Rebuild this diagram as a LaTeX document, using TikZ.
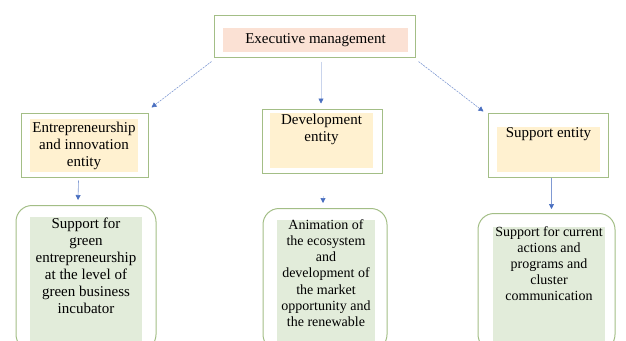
\documentclass[tikz,border=0pt]{standalone}
\usepackage{fontspec}
\setmainfont{Liberation Serif}
\usetikzlibrary{arrows.meta}
\definecolor{bordergreen}{HTML}{A3BE86}
\definecolor{peachfill}{HTML}{FBE1D4}
\definecolor{creamfill}{HTML}{FFF1D0}
\definecolor{greenfill}{HTML}{E2ECDA}
\definecolor{arrowblue}{HTML}{4A6FC0}
\tikzset{
  outerbox/.style={draw=bordergreen, line width=1pt, fill=white, inner sep=0pt},
  roundbox/.style={draw=bordergreen, line width=1pt, fill=white, inner sep=0pt, rounded corners=16pt},
  fillbox/.style={inner sep=0pt, align=center, font=\fontsize{15}{17}\selectfont},
  arr/.style={draw=arrowblue!70, line width=0.6pt, -{Triangle[width=5pt,length=5pt,color=arrowblue]}},
  darr/.style={arr, dash pattern=on 2pt off 1pt},
  farr/.style={arr, draw=arrowblue!30},
}
\begin{document}
\begin{tikzpicture}[x=1pt,y=-1pt]
\useasboundingbox (0,0) rectangle (626,340);
\clip (0,0) rectangle (626,340);
% top
\node[outerbox, minimum width=201pt, minimum height=42pt] (top) at (314.5,36) {};
\node[fillbox, fill=peachfill, minimum width=185pt, minimum height=24pt] (topf) at (315.5,40) {Executive management};
% entities
\node[outerbox, minimum width=127pt, minimum height=64pt] (e1) at (84.5,145) {};
\node[fillbox, fill=creamfill, minimum width=108pt, minimum height=53pt] (e1f) at (84,145.5) {Entrepreneurship\\and innovation\\entity};
\node[outerbox, minimum width=120pt, minimum height=64pt] (e2) at (322,141) {};
\node[fillbox, fill=creamfill, minimum width=103pt, minimum height=55pt] (e2f) at (321.5,140.5) {};
\node[fillbox, anchor=north] (e2t) at (321.5,114) {Development\\entity};
\node[outerbox, minimum width=120pt, minimum height=64pt] (e3) at (548,145) {};
\node[fillbox, fill=creamfill, minimum width=103pt, minimum height=45pt] (e3f) at (548.5,149.5) {};
\node[fillbox, anchor=north] (e3t) at (548.5,127) {Support entity};
% bottom boxes
\node[roundbox, minimum width=140pt, minimum height=145pt, anchor=north] (b1) at (86,205) {};
\node[fillbox, fill=greenfill, minimum width=112pt, minimum height=130pt, anchor=north] (b1f) at (86,217) {};
\node[fillbox, anchor=north] (b1t) at (86,218) {Support for\\green\\entrepreneurship\\at the level of\\green business\\incubator};
\node[roundbox, minimum width=124pt, minimum height=142pt, anchor=north] (b2) at (325,208) {};
\node[fillbox, fill=greenfill, minimum width=98pt, minimum height=130pt, anchor=north] (b2f) at (326,220) {};
\node[fillbox, anchor=north, font=\fontsize{14}{16.3}\selectfont] (b2t) at (326,219) {Animation of\\the ecosystem\\and\\development of\\the market\\opportunity and\\the renewable};
\node[roundbox, minimum width=137pt, minimum height=137pt, anchor=north] (b3) at (546.5,213) {};
\node[fillbox, fill=greenfill, minimum width=112pt, minimum height=120pt, anchor=north] (b3f) at (549,227) {};
\node[fillbox, anchor=north, font=\fontsize{14}{16}\selectfont] (b3t) at (549,226) {Support for current\\actions and\\programs and\\cluster\\communication};
% connectors
\coordinate (m1) at ([shift={(-1,0)}]e2.north);
\coordinate (m2) at ([shift={(-2,0)}]b2.north);
\coordinate (m3) at ([shift={(5,0)}]b3.north);
\draw[darr] ([shift={(-2,4)}]top.south west) -- ([shift={(3,-5)}]e1.north east);
\draw[farr] ([shift={(0,4)}]top.south -| m1) -- ([shift={(0,-5)}]m1);
\draw[darr] ([shift={(3,4)}]top.south east) -- ([shift={(-4,-1)}]e3.north west);
\draw[arr] ([shift={(-6,3)}]e1.south) -- ([shift={(-8,-5)}]b1.north);
\draw[farr] ([shift={(0,-12)}]m2) -- ([shift={(0,-5)}]m2);
\draw[arr] (e3.south -| m3) -- ([shift={(0,-4)}]m3);
\end{tikzpicture}
\end{document}
